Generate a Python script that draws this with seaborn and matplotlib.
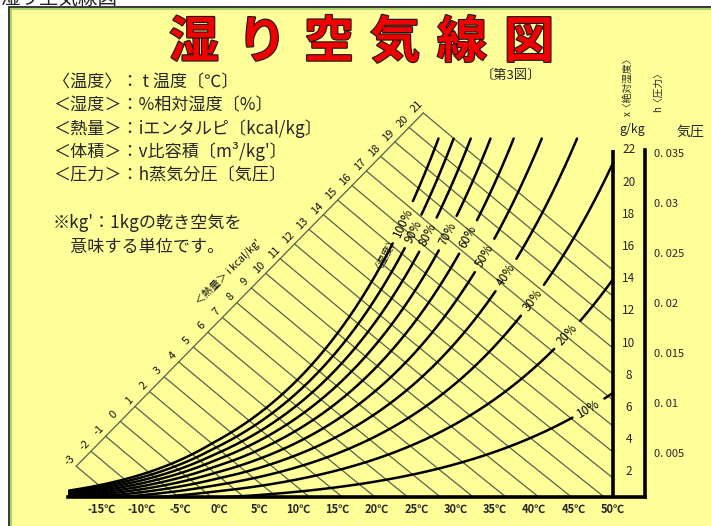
import numpy as np
import pandas as pd
import matplotlib
matplotlib.use("Agg")
import matplotlib.pyplot as plt
import matplotlib.patheffects as pe
import matplotlib.transforms as mtransforms
from matplotlib.patches import Rectangle
import seaborn as sns

sns.set_theme(style="white")
plt.rcParams["font.family"] = ["Noto Sans CJK JP", "DejaVu Sans"]

# ---------------- chart values ----------------
rh_levels = [100, 90, 80, 70, 60, 50, 40, 30, 20, 10]                      # relative humidity %
rh_label_temps = [23.3, 24.6, 26.5, 29.0, 31.6, 33.7, 36.4, 39.8, 44.2, 46.9]  # where each % label sits (°C)
enthalpy_levels = list(range(-3, 22))                                       # kcal/kg
temp_ticks = [-15, -10, -5, 0, 5, 10, 15, 20, 25, 30, 35, 40, 45, 50]       # °C
humidity_ticks = [2, 4, 6, 8, 10, 12, 14, 16, 18, 20, 22]                   # g/kg'
pressure_ticks = [0.005, 0.01, 0.015, 0.02, 0.025, 0.03, 0.035]             # atm
pressure_labels = ["0. 005", "0. 01", "0. 015", "0. 02", "0. 025", "0. 03", "0. 035"]

legend_lines = [
    "〈温度〉： t 温度〔℃〕",
    "＜湿度＞：%相対湿度〔%〕",
    "＜熱量＞：iエンタルピ〔kcal/kg〕",
    "＜体積＞：v比容積〔m³/kg'〕",
    "＜圧力＞：h蒸気分圧〔気圧〕",
]
note_lines = ["※kg'：1kgの乾き空気を", "　意味する単位です。"]
title_chars = list("湿り空気線図")

# ---------------- chart frame ----------------
T_MIN, T_MAX, T_RIGHT = -19.3, 50.0, 54.07   # temperature range, g/kg column edge
W_MIN, W_AXIS_TOP, W_CAP, W_TOP = 0.435, 22.0, 22.7, 27.58
P_KPA = 101.325
# the humidity curves of this sheet run on a slightly compressed temperature scale
CURVE_T0, CURVE_TK = 0.9, 0.94
scale_T = [-17.1, 26.5]     # enthalpy scale line (°C)
scale_w = [2.92, 24.6]      # enthalpy scale line (g/kg')

W_PX, H_PX = 711, 526
fig = plt.figure(figsize=(W_PX / 100, H_PX / 100), dpi=100, facecolor="white")

# yellow sheet with dark/green border
fig.add_artist(Rectangle((9 / W_PX, -0.01), 1.1, (H_PX - 7) / H_PX + 0.01, transform=fig.transFigure,
                         facecolor="#FFFF99", edgecolor="#2a2a2a", lw=1.3, zorder=-2))
fig.add_artist(Rectangle((11 / W_PX, -0.01), 1.1, (H_PX - 9) / H_PX + 0.01, transform=fig.transFigure,
                         facecolor="none", edgecolor="#9CCB63", lw=1.2, zorder=-1))

ax = fig.add_axes([68 / W_PX, (H_PX - 497) / H_PX, (645 - 68) / W_PX, (497 - 60) / H_PX])
ax.set_facecolor("none")
ax.set_xlim(T_MIN, T_RIGHT)
ax.set_ylim(W_MIN, W_TOP)


def p_sat(T):
    T = np.asarray(T, float)
    water = 0.61094 * np.exp(17.625 * T / (T + 243.04))
    ice = 0.61115 * np.exp(22.452 * T / (272.55 + T))
    return np.where(T >= 0, water, ice)


def humidity(T, rh):
    t = CURVE_T0 + CURVE_TK * np.asarray(T, float)
    pv = rh / 100.0 * p_sat(t)
    return 622.0 * pv / (P_KPA - pv)


def enthalpy_temp(i, w):
    return (i - 0.5973 * w) / (0.24 + 0.000441 * w)


# ---------------- relative humidity curves ----------------
rows = []
label_info = []
T_grid = np.linspace(T_MIN, T_MAX, 4000)
for k, (rh, tl) in enumerate(zip(rh_levels, rh_label_temps)):
    wg = humidity(T_grid, rh)
    t_end = min(T_MAX, np.interp(W_CAP, wg, T_grid))
    T = np.linspace(T_MIN, t_end, 900)
    w = humidity(T, rh)
    pts = ax.transData.transform(np.column_stack([T, w]))
    wl = float(humidity(tl, rh))
    c = ax.transData.transform((tl, wl))
    gap = 6 + 4.2 * len(f"{rh}%")
    d = np.hypot(pts[:, 0] - c[0], pts[:, 1] - c[1])
    keep = d >= gap
    seg = np.cumsum(np.r_[0, np.diff(keep.astype(int)) != 0])
    for s in np.unique(seg[keep]):
        m = keep & (seg == s)
        rows.append(pd.DataFrame({"T": T[m], "w": w[m], "unit": f"rh{k}_{s}"}))
    p2 = ax.transData.transform((tl + 0.2, float(humidity(tl + 0.2, rh))))
    ang = np.degrees(np.arctan2(p2[1] - c[1], p2[0] - c[0]))
    label_info.append((tl, wl, f"{rh}%", ang))
rh_df = pd.concat(rows, ignore_index=True)

# ---------------- enthalpy lines ----------------
ws = np.linspace(0, 30, 6001)
scale_slope = (scale_T[1] - scale_T[0]) / (scale_w[1] - scale_w[0])
Ts = scale_T[0] + (ws - scale_w[0]) * scale_slope
e_rows, e_starts = [], []
for i in enthalpy_levels:
    f = enthalpy_temp(i, ws) - Ts
    w_start = float(np.interp(0, -f, ws))
    w_end = max(W_MIN, (i - 0.24 * T_MAX) / (0.5973 + 0.000441 * T_MAX))
    w = np.linspace(w_end, w_start, 60)
    e_rows.append(pd.DataFrame({"T": enthalpy_temp(i, w), "w": w, "unit": f"i{i}"}))
    e_starts.append((float(enthalpy_temp(i, w_start)), w_start))
e_df = pd.concat(e_rows, ignore_index=True)
scale_df = pd.DataFrame({"T": [e_starts[0][0], e_starts[-1][0]],
                         "w": [e_starts[0][1], e_starts[-1][1]]})

line_col = "#56624c"
sns.lineplot(data=e_df, x="T", y="w", units="unit", estimator=None, sort=False,
             color=line_col, linewidth=0.9, legend=False, ax=ax, zorder=1)
sns.lineplot(data=scale_df, x="T", y="w", estimator=None, sort=False,
             color=line_col, linewidth=0.9, legend=False, ax=ax, zorder=1)
sns.lineplot(data=rh_df, x="T", y="w", units="unit", estimator=None, sort=False,
             color="black", linewidth=1.8, legend=False, ax=ax, zorder=2)

# right-hand 50°C axis line
ax.vlines(T_MAX, W_MIN, W_AXIS_TOP, color="black", lw=2.6, zorder=3)

# labels on curves
for tl, wl, txt, ang in label_info:
    ax.text(tl, wl, txt, rotation=ang, rotation_mode="anchor", ha="center", va="center",
            fontsize=8.5, color="black", zorder=4)

lab_tr = mtransforms.offset_copy(ax.transData, fig=fig, x=-4.5, y=4.5, units="points")
for i, (t0, w0) in zip(enthalpy_levels, e_starts):
    ax.text(t0, w0, str(i), transform=lab_tr, rotation=45, rotation_mode="anchor",
            ha="center", va="center", fontsize=8, color="#111111")

ax.text(1.07, 14.4, "＜熱量＞ i kcal/kg'", rotation=45, rotation_mode="anchor",
        ha="center", va="center", fontsize=7.5, color="#111111")
ax.text(20.8, 15.8, "〈湿度〉", rotation=62, rotation_mode="anchor",
        ha="center", va="center", fontsize=7.5, color="#111111")

# ---------------- axes styling ----------------
for s in ["left", "top"]:
    ax.spines[s].set_visible(False)
ax.spines["bottom"].set_linewidth(2.6)
ax.spines["bottom"].set_color("black")
ax.spines["right"].set_linewidth(2.6)
ax.spines["right"].set_color("black")
ax.spines["right"].set_bounds(W_MIN, W_AXIS_TOP)
ax.set_xticks(temp_ticks, labels=[f"{t}℃" for t in temp_ticks])
ax.tick_params(axis="x", length=0, pad=4.5, labelsize=8)
for t in ax.get_xticklabels():
    t.set_fontweight("bold")
ax.set_yticks([])
ax.set_xlabel("")
ax.set_ylabel("")
ax.set_xlim(T_MIN, T_RIGHT)
ax.set_ylim(W_MIN, W_TOP)

for h in humidity_ticks:
    ax.text((T_MAX + T_RIGHT) / 2, h, str(h), ha="center", va="center", fontsize=8.5)

p_tr = mtransforms.blended_transform_factory(fig.transFigure, ax.transData)
for p, lab in zip(pressure_ticks, pressure_labels):
    # vapour pressure (atm) expressed as absolute humidity g/kg'
    ax.text(654 / W_PX, 622.0 * p, lab, transform=p_tr, ha="left", va="center",
            fontsize=8, clip_on=False)


def fx(px):
    return px / W_PX


def fy(py):
    return 1 - py / H_PX


fig.text(fx(632), fy(130), "g/kg", ha="center", va="center", fontsize=9)
fig.text(fx(690), fy(132), "気圧", ha="center", va="center", fontsize=10)
fig.text(fx(628), fy(84), "x〈絶対湿度〉", rotation=90, ha="center", va="center", fontsize=7)
fig.text(fx(658), fy(90), "h〈圧力〉", rotation=90, ha="center", va="center", fontsize=7)

# title
title_x = [194, 262, 329, 395, 462, 529]
for ch, x in zip(title_chars, title_x):
    fig.text(fx(x), fy(43), ch, ha="center", va="center", fontsize=36, color="#F00000",
             weight="bold", path_effects=[pe.withStroke(linewidth=1.6, foreground="#1a1a1a")])
fig.text(fx(511), fy(75), "〔第3図〕", ha="center", va="center", fontsize=9.5)
fig.text(0, fy(-2), "湿り空気線図", ha="left", va="center", fontsize=14, color="#222222")

for n, line in enumerate(legend_lines):
    fig.text(fx(53), fy(82 + 23.3 * n), line, ha="left", va="center", fontsize=12.3)
for n, line in enumerate(note_lines):
    fig.text(fx(53), fy(223 + 24 * n), line, ha="left", va="center", fontsize=12.3)

fig.savefig("out.png", dpi=100, facecolor="white")
